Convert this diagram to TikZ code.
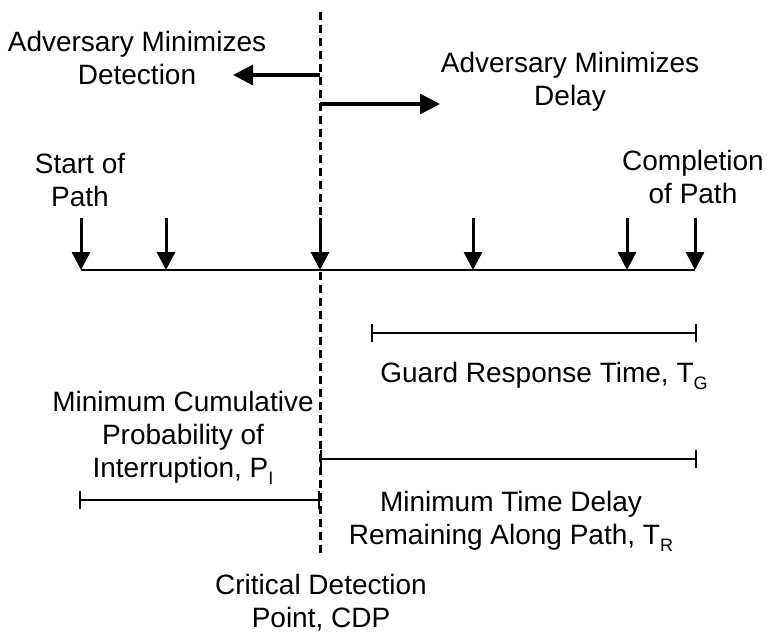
\documentclass[tikz,border=0pt]{standalone}
\usepackage{fontspec}
\setmainfont{Liberation Sans}
\usetikzlibrary{arrows.meta}
\newcommand{\lowsub}[1]{\raisebox{-7pt}{\fontsize{18}{18}\selectfont #1}}
\begin{document}
\begin{tikzpicture}[x=1pt,y=-1pt,
  lbl/.style={align=center,inner sep=0pt,font=\fontsize{28}{33}\selectfont},
  cdpline/.style={line width=3pt,dash pattern=on 8pt off 5pt},
  bigarrow/.style={line width=3pt,-{Triangle[length=18pt,width=18pt]}},
  sidearrow/.style={line width=3.2pt,-{Triangle[length=20pt,width=20pt]}},
  axisline/.style={line width=2.5pt},
  interval/.style={line width=2pt,{Bar[width=18pt,line width=2pt]}-{Bar[width=18pt,line width=2pt]}}]
\useasboundingbox (0,0) rectangle (767,634);
% coordinates
\coordinate (dtop) at (320,12);
\coordinate (dbot) at (320,557);
\coordinate (la) at (320,75);
\coordinate (lb) at (233,75);
\coordinate (ra) at (320,104);
\coordinate (rb) at (440,104);
\foreach \n/\x in {0/81,1/166,2/320,3/473,4/627,5/695}{
  \coordinate (s\n) at (\x,218);
  \coordinate (t\n) at (\x,270);
}
\coordinate (g0) at (371,333);
\coordinate (g1) at (697,333);
\coordinate (r0) at (320,459);
\coordinate (r1) at (697,459);
\coordinate (p0) at (79,500);
\coordinate (p1) at (320,500);
% labels
\node[lbl] (advdet) at (137,58) {Adversary Minimizes\\Detection};
\node[lbl] (advdel) at (570,82) {Adversary Minimizes\\Delay};
\node[lbl] (start) at (80,180) {Start of\\Path};
\node[lbl] (compl) at (693,177) {Completion\\of Path};
\node[lbl] (guard) at (544,376) {Guard Response Time, T\lowsub{G}};
\node[lbl] (mincum) at (183,438) {Minimum Cumulative\\Probability of\\Interruption, P\lowsub{I}};
\node[lbl] (mintd) at (511,521) {Minimum Time Delay\\Remaining Along Path, T\lowsub{R}};
\node[lbl] (cdp) at (321,603) {Critical Detection\\Point, CDP};
% drawing
\draw[cdpline] (dtop) -- (dbot);
\draw[sidearrow] (la) -- (lb);
\draw[sidearrow] (ra) -- (rb);
\draw[axisline] (t0) -- (t5);
\foreach \n in {0,...,5}{\draw[bigarrow] (s\n) -- (t\n);}
\draw[interval] (g0) -- (g1);
\draw[interval] (r0) -- (r1);
\draw[interval] (p0) -- (p1);
\end{tikzpicture}
\end{document}
